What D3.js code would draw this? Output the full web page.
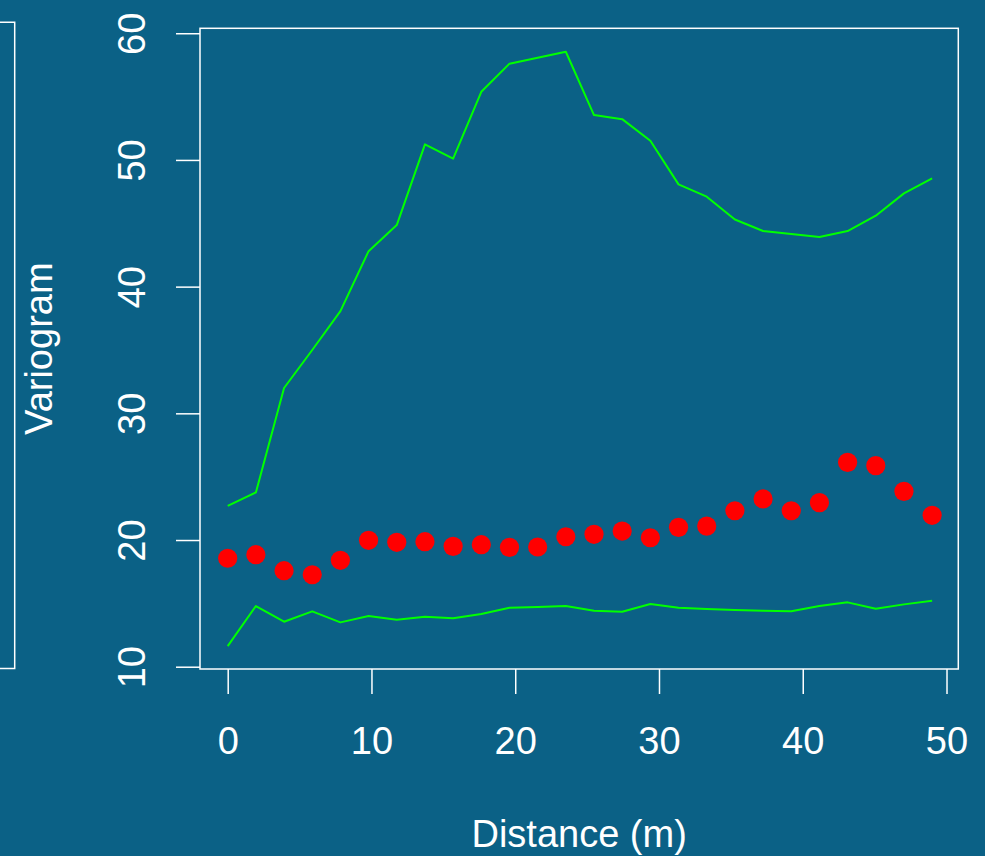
<!DOCTYPE html>
<html>
<head>
<meta charset="utf-8">
<script src="https://cdn.jsdelivr.net/npm/d3@7"></script>
<style>
  html, body { margin: 0; padding: 0; background: #0b6186; }
  svg { display: block; }
  text { font-family: "Liberation Sans", Arial, Helvetica, sans-serif; fill: #ffffff; }
</style>
</head>
<body>
<svg id="chart" width="985" height="856"></svg>
<script>
// Lag distances (m)
const distance = [0, 1.96, 3.92, 5.88, 7.84, 9.8, 11.76, 13.72, 15.68, 17.64, 19.6, 21.56, 23.52,
                  25.48, 27.44, 29.4, 31.36, 33.32, 35.28, 37.24, 39.2, 41.16, 43.12, 45.08, 47.04, 49.0];

// Empirical variogram
const variogram = [18.56, 18.84, 17.58, 17.26, 18.4, 19.98, 19.82, 19.87, 19.5, 19.63, 19.42, 19.45, 20.26,
                   20.45, 20.71, 20.18, 21.0, 21.1, 22.31, 23.24, 22.31, 22.95, 26.13, 25.87, 23.84, 21.95];

// Simulation envelope: upper and lower bounds
const envelopeUpper = [22.7, 23.76, 32.0, 35.0, 38.07, 42.8, 44.86, 51.23, 50.1, 55.38, 57.6, 58.07, 58.54,
                       53.54, 53.22, 51.52, 48.07, 47.1, 45.3, 44.39, 44.15, 43.91, 44.39, 45.6, 47.36, 48.55];
const envelopeLower = [11.63, 14.79, 13.55, 14.37, 13.5, 14.0, 13.71, 13.95, 13.82, 14.16, 14.66, 14.71, 14.79,
                       14.42, 14.34, 14.95, 14.66, 14.55, 14.47, 14.42, 14.37, 14.79, 15.08, 14.58, 14.92, 15.21];

// Axis ticks and labels
const xTicks = [0, 10, 20, 30, 40, 50];
const yTicks = [10, 20, 30, 40, 50, 60];
const xLabel = "Distance (m)";
const yLabel = "Variogram";

const svg = d3.select("#chart");
const fg = "#ffffff";
const fontSize = 38;

const x = d3.scaleLinear().domain([-1.927, 50.82]).range([200, 958.3]);
const y = d3.scaleLinear().domain([9.82, 60.39]).range([669, 28.3]);

// Right edge of the neighbouring panel's frame
svg.append("path")
  .attr("d", "M0,22.3H14.7V668.5H0")
  .attr("fill", "none").attr("stroke", fg).attr("stroke-width", 1.5);

// Plot frame
svg.append("rect")
  .attr("x", x.range()[0]).attr("y", y.range()[1])
  .attr("width", x.range()[1] - x.range()[0])
  .attr("height", y.range()[0] - y.range()[1])
  .attr("fill", "none").attr("stroke", fg).attr("stroke-width", 1.5);

// Envelope lines
const line = d3.line().x((d, i) => x(distance[i])).y(d => y(d));
[envelopeUpper, envelopeLower].forEach(series => {
  svg.append("path")
    .datum(series)
    .attr("d", line)
    .attr("fill", "none")
    .attr("stroke", "#00ff00")
    .attr("stroke-width", 2)
    .attr("stroke-linejoin", "round");
});

// Variogram points
svg.append("g").selectAll("circle")
  .data(variogram)
  .join("circle")
  .attr("cx", (d, i) => x(distance[i]))
  .attr("cy", d => y(d))
  .attr("r", 9.6)
  .attr("fill", "#ff0000");

// X axis
const gx = svg.append("g")
  .attr("transform", `translate(0,${y.range()[0]})`)
  .call(d3.axisBottom(x).tickValues(xTicks).tickSize(25).tickSizeOuter(0).tickFormat(d3.format("d")));
gx.select(".domain").remove();
gx.selectAll(".tick line").attr("stroke", fg).attr("stroke-width", 1.5);
gx.selectAll(".tick text")
  .attr("y", 85).attr("dy", null)
  .attr("font-size", fontSize).attr("fill", fg)
  .style("font-family", "'Liberation Sans', Arial, sans-serif");

// Y axis
const gy = svg.append("g")
  .attr("transform", `translate(${x.range()[0]},0)`)
  .call(d3.axisLeft(y).tickValues(yTicks).tickSize(24).tickSizeOuter(0).tickFormat(d3.format("d")));
gy.select(".domain").remove();
gy.selectAll(".tick line").attr("stroke", fg).attr("stroke-width", 1.5);
gy.selectAll(".tick text")
  .attr("x", null).attr("dy", null)
  .attr("text-anchor", "middle")
  .attr("transform", "translate(-55,0) rotate(-90)")
  .attr("font-size", fontSize).attr("fill", fg)
  .style("font-family", "'Liberation Sans', Arial, sans-serif");

// Axis titles
const midX = (x.range()[0] + x.range()[1]) / 2;
const midY = (y.range()[0] + y.range()[1]) / 2;
svg.append("text")
  .attr("x", midX).attr("y", 846.5)
  .attr("text-anchor", "middle").attr("font-size", fontSize)
  .text(xLabel);
svg.append("text")
  .attr("transform", `translate(51.7,${midY}) rotate(-90)`)
  .attr("text-anchor", "middle").attr("font-size", fontSize)
  .text(yLabel);
</script>
</body>
</html>
